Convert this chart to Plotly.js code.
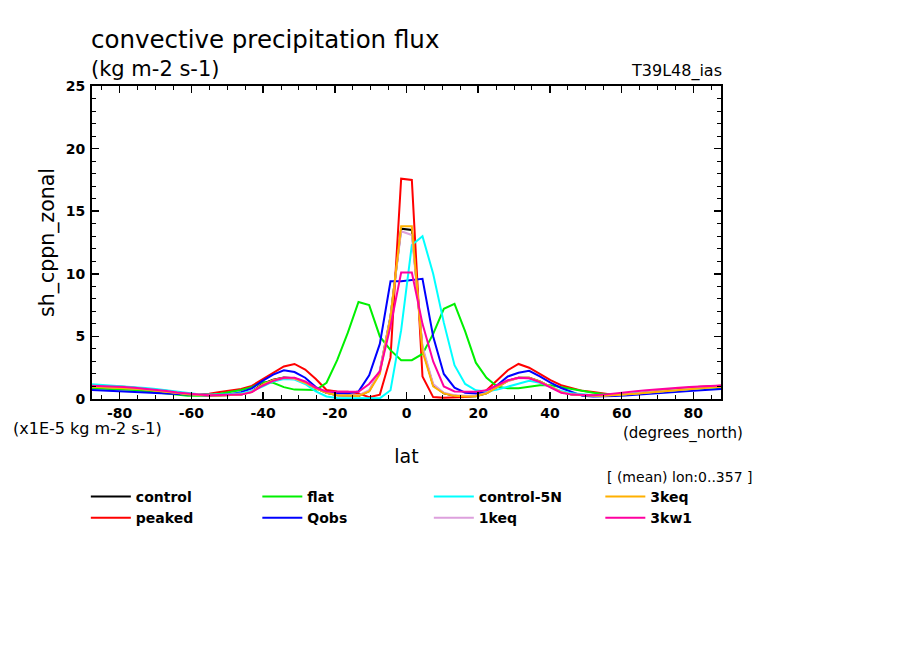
<!DOCTYPE html>
<html>
<head>
<meta charset="utf-8">
<script src="https://cdn.plot.ly/plotly-3.0.1.min.js"></script>
<style>html,body{margin:0;padding:0;background:#fff}#chart{width:904px;height:654px}</style>
</head>
<body>
<div id="chart"></div>
<script>
const lat = [-87.72,-84.79,-81.81,-78.84,-75.86,-72.89,-69.91,-66.94,-63.96,-60.99,-58.01,-55.04,-52.06,-49.09,-46.11,-43.14,-40.16,-37.19,-34.21,-31.24,-28.26,-25.29,-22.31,-19.34,-16.36,-13.39,-10.41,-7.44,-4.46,-1.49,
1.49,4.46,7.44,10.41,13.39,16.36,19.34,22.31,25.29,28.26,31.24,34.21,37.19,40.16,43.14,46.11,49.09,52.06,55.04,58.01,60.99,63.96,66.94,69.91,72.89,75.86,78.84,81.81,84.79,87.72];

const control = [0.98,0.95,0.92,0.88,0.82,0.75,0.68,0.58,0.48,0.38,0.32,0.28,0.28,0.3,0.36,0.6,1.2,1.55,1.72,1.65,1.3,0.85,0.5,0.3,0.25,0.25,0.65,2.2,6.6,13.6,
13.5,4.0,1.1,0.45,0.25,0.2,0.22,0.45,0.95,1.45,1.7,1.7,1.4,0.95,0.55,0.35,0.28,0.25,0.26,0.3,0.35,0.42,0.5,0.58,0.65,0.72,0.8,0.87,0.92,0.98];
const peaked = [1.05,1.04,1.0,0.97,0.9,0.83,0.75,0.65,0.52,0.42,0.38,0.42,0.55,0.65,0.8,1.05,1.55,2.05,2.6,2.8,2.35,1.6,0.72,0.6,0.58,0.45,0.15,0.35,3.3,17.6,
17.5,1.8,0.15,0.1,0.1,0.15,0.25,0.7,1.5,2.3,2.8,2.5,2.0,1.5,1.1,0.85,0.65,0.55,0.42,0.32,0.35,0.45,0.55,0.65,0.75,0.82,0.9,0.98,1.02,1.05];
const flat = [0.85,0.83,0.8,0.78,0.72,0.62,0.52,0.42,0.32,0.26,0.26,0.3,0.42,0.56,0.72,0.95,1.35,1.3,0.95,0.75,0.72,0.72,1.3,3.1,5.3,7.75,7.5,5.0,3.9,3.1,
3.1,3.6,5.2,7.2,7.6,5.4,2.9,1.7,1.0,0.85,0.85,0.95,1.1,1.1,0.95,0.75,0.6,0.5,0.4,0.35,0.35,0.4,0.45,0.55,0.62,0.7,0.75,0.8,0.85,0.9];
const qobs = [0.72,0.68,0.64,0.6,0.55,0.5,0.45,0.4,0.35,0.3,0.27,0.27,0.3,0.38,0.55,0.85,1.45,1.95,2.3,2.15,1.7,0.95,0.5,0.45,0.45,0.6,1.9,4.4,9.4,9.4,
9.5,9.6,5.0,2.0,0.9,0.5,0.45,0.6,1.1,1.8,2.1,2.25,1.8,1.3,0.88,0.55,0.25,0.2,0.2,0.24,0.28,0.33,0.38,0.45,0.52,0.58,0.64,0.7,0.76,0.8];
const control5N = [1.17,1.12,1.07,1.02,0.95,0.87,0.8,0.7,0.58,0.45,0.38,0.35,0.35,0.38,0.45,0.65,1.0,1.4,1.6,1.55,1.2,0.6,0.2,0.08,0.05,0.05,0.05,0.05,0.7,5.5,
12.3,13.0,10.0,6.1,2.7,1.2,0.7,0.6,0.75,1.0,1.25,1.45,1.3,0.95,0.65,0.45,0.35,0.3,0.3,0.32,0.38,0.45,0.52,0.6,0.68,0.75,0.82,0.88,0.94,0.98];
const keq1 = [1.0,0.97,0.94,0.9,0.84,0.77,0.7,0.6,0.5,0.4,0.33,0.29,0.28,0.3,0.36,0.58,1.12,1.48,1.68,1.62,1.3,0.85,0.52,0.32,0.27,0.28,0.7,2.3,6.6,13.4,
13.1,4.2,1.2,0.5,0.3,0.25,0.26,0.48,0.95,1.42,1.68,1.66,1.38,0.95,0.56,0.36,0.3,0.27,0.28,0.32,0.37,0.44,0.52,0.6,0.67,0.74,0.82,0.88,0.94,1.0];
const keq3 = [0.98,0.95,0.92,0.88,0.82,0.75,0.68,0.58,0.48,0.38,0.32,0.28,0.28,0.3,0.35,0.55,1.15,1.5,1.7,1.65,1.3,0.85,0.5,0.3,0.25,0.25,0.6,2.0,6.5,13.8,
13.8,3.8,1.0,0.45,0.25,0.2,0.22,0.45,0.95,1.45,1.7,1.7,1.4,0.95,0.55,0.35,0.28,0.25,0.26,0.3,0.35,0.42,0.5,0.58,0.65,0.72,0.8,0.87,0.92,0.98];
const kw1 = [1.06,1.04,1.0,0.96,0.9,0.82,0.74,0.64,0.52,0.42,0.35,0.3,0.3,0.3,0.35,0.55,1.06,1.45,1.7,1.7,1.4,0.9,0.6,0.58,0.58,0.58,1.2,2.2,5.8,10.1,
10.1,6.0,3.0,1.0,0.6,0.58,0.58,0.7,1.1,1.5,1.7,1.65,1.35,0.9,0.5,0.35,0.32,0.3,0.35,0.42,0.52,0.62,0.7,0.78,0.85,0.9,0.95,1.0,1.05,1.08];

const seriesNames = ['control','peaked','flat','Qobs','control-5N','1keq','3keq','3kw1'];
const seriesColors = ['#000000','#ff0000','#00f000','#0000ff','#00ffff','#dda0dd','#ffb000','#ff00a0'];
const seriesRanks = [1,5,2,6,3,7,4,8];
const seriesData = [control, peaked, flat, qobs, control5N, keq1, keq3, kw1];

const xTickVals = [-80,-60,-40,-20,0,20,40,60,80];
const xTickText = ['-80','-60','-40','-20','0','20','40','60','80'];
const yTickVals = [0,5,10,15,20,25];
const yTickText = ['0','5','10','15','20','25'];

const FONT = 'DejaVu Sans, Arial, sans-serif';

const traces = seriesNames.map((n,i)=>({
  type:'scatter', mode:'lines', name:n, x:lat, y:seriesData[i],
  line:{color:seriesColors[i], width:2}, legendrank:seriesRanks[i]
}));

const layout = {
  width:904, height:654,
  margin:{l:92, r:183, t:86, b:255, pad:0},
  paper_bgcolor:'#fff', plot_bgcolor:'#fff',
  font:{family:FONT, color:'#000'},
  title:{text:'convective precipitation flux', x:91/904, xanchor:'left', xref:'container',
         y:1-39/654, yanchor:'middle', yref:'container', font:{family:FONT, size:24.5, color:'#000'}},
  showlegend:true,
  legend:{orientation:'h', x:-0.0098, xanchor:'left', y:-0.262, yanchor:'top',
          entrywidth:116.5, entrywidthmode:'pixels', traceorder:'normal', tracegroupgap:0, itemwidth:40,
          font:{family:FONT, size:14, weight:'bold', color:'#000'}, bgcolor:'rgba(0,0,0,0)'},
  xaxis:{range:[-87.72,87.72], tickmode:'array', tickvals:xTickVals, ticktext:xTickText,
         ticks:'inside', ticklen:7, tickwidth:1.5, tickcolor:'#000',
         showline:true, linewidth:2, linecolor:'#000', mirror:'allticks',
         showgrid:false, zeroline:false,
         minor:{tick0:0, dtick:5, ticks:'inside', ticklen:4, tickwidth:1, tickcolor:'#000', showgrid:false},
         tickfont:{family:FONT, size:14, weight:'bold', color:'#000'},
         title:{text:'lat', font:{family:FONT, size:19, color:'#000'}, standoff:30}},
  yaxis:{range:[0,25], tickmode:'array', tickvals:yTickVals, ticktext:yTickText,
         ticks:'inside', ticklen:7, tickwidth:1.5, tickcolor:'#000',
         showline:true, linewidth:2, linecolor:'#000', mirror:'allticks',
         showgrid:false, zeroline:false, ticklabelstandoff:2,
         minor:{tick0:0, dtick:1, ticks:'inside', ticklen:4, tickwidth:1, tickcolor:'#000', showgrid:false},
         tickfont:{family:FONT, size:14, weight:'bold', color:'#000'},
         title:{text:'sh_cppn_zonal', font:{family:FONT, size:20.5, color:'#000'}, standoff:6}},
  annotations:[
    {text:'(kg m-2 s-1)', xref:'paper', yref:'paper', x:-3/629, y:(399-69)/313, xanchor:'left', yanchor:'middle', showarrow:false, font:{family:FONT, size:21, color:'#000'}},
    {text:'T39L48_ias', xref:'paper', yref:'paper', x:1+3/629, y:(399-71)/313, xanchor:'right', yanchor:'middle', showarrow:false, font:{family:FONT, size:16, color:'#000'}},
    {text:'(x1E-5 kg m-2 s-1)', xref:'paper', yref:'paper', x:(11-92)/629, y:(399-428)/313, xanchor:'left', yanchor:'middle', showarrow:false, font:{family:FONT, size:16, color:'#000'}},
    {text:'(degrees_north)', xref:'paper', yref:'paper', x:(745-92)/629, y:(399-433)/313, xanchor:'right', yanchor:'middle', showarrow:false, font:{family:FONT, size:15, color:'#000'}},
    {text:'[ (mean) lon:0..357 ]', xref:'paper', yref:'paper', x:(754-92)/629, y:(399-477)/313, xanchor:'right', yanchor:'middle', showarrow:false, font:{family:FONT, size:14, color:'#000'}}
  ]
};

Plotly.newPlot('chart', traces, layout, {staticPlot:true, displayModeBar:false});
</script>
</body>
</html>
